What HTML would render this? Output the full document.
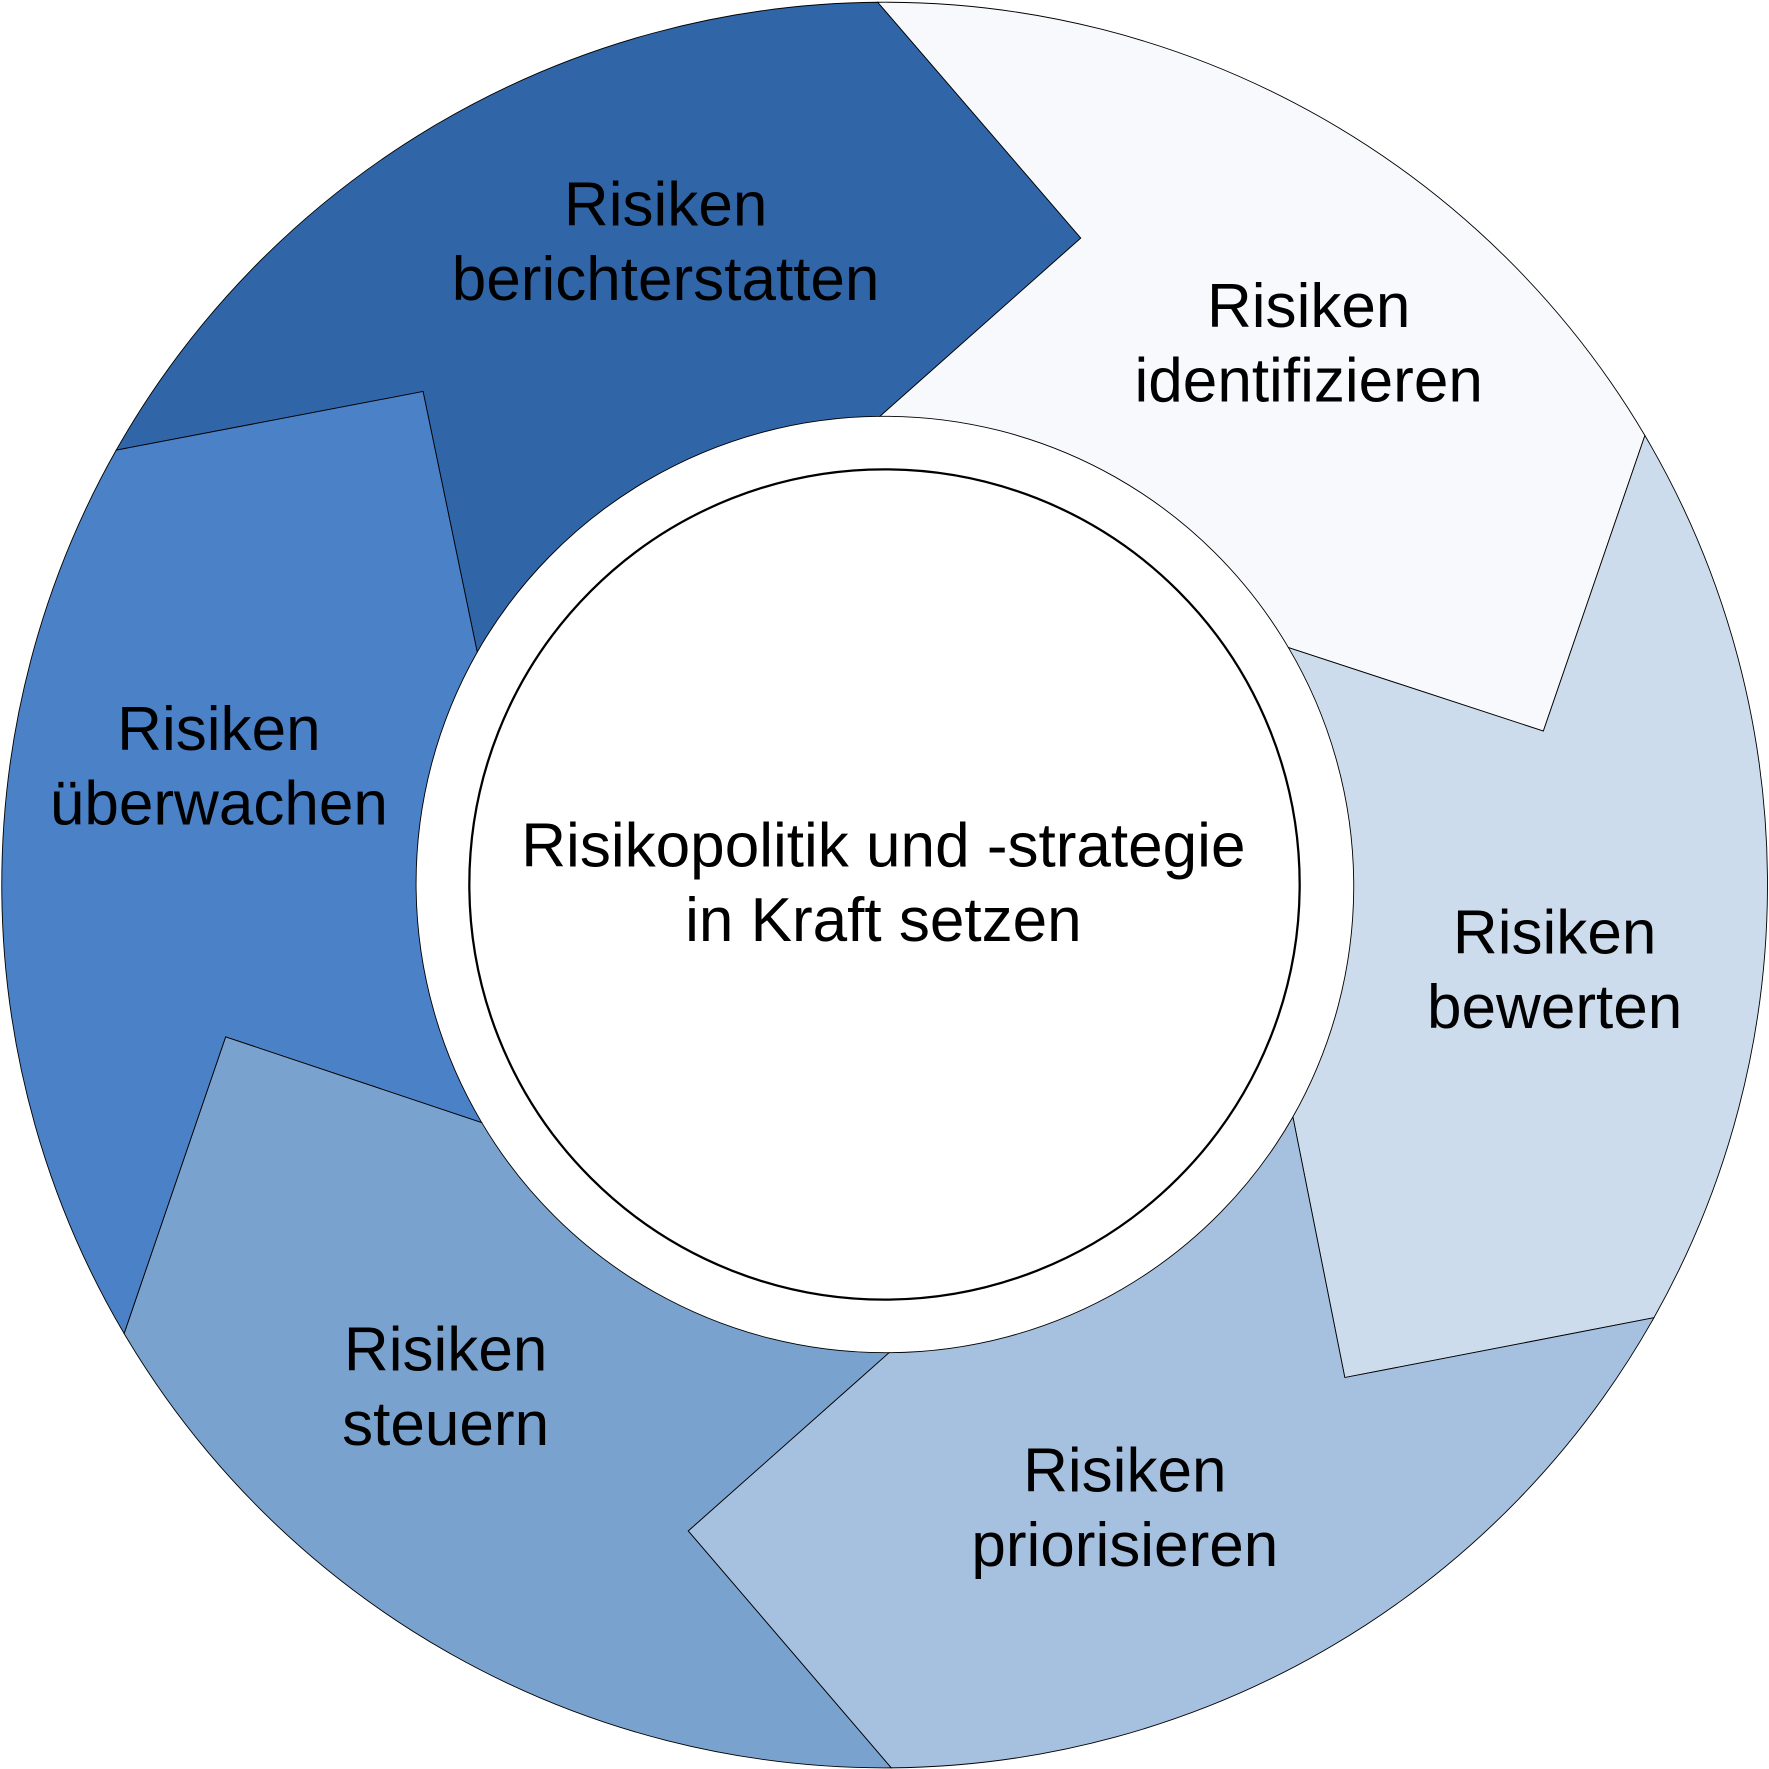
<!DOCTYPE html>
<html><head><meta charset="utf-8"><style>
html,body{margin:0;padding:0;background:#fff;}
svg{display:block;}
text{font-family:"Liberation Sans",Arial,sans-serif;font-size:55px;fill:#000;text-anchor:middle;}
</style></head><body>
<svg width="1769" height="1769" viewBox="0 0 1568 1568" xmlns="http://www.w3.org/2000/svg">
<g stroke="#000" stroke-width="0.8" stroke-linejoin="miter">
<path fill="#3066a8" d="M103,399 A783,783 0 0 1 778,2 L958,211 L780,369 A415,415 0 0 0 423,578 L375,347 Z"/>
<path fill="#f7f9fc" d="M778,2 A783,783 0 0 1 1458,386 L1368,648 L1142,574 A415,415 0 0 0 780,369 L958,211 Z"/>
<path fill="#ccdcec" d="M1458,386 A783,783 0 0 1 1466,1168 L1192,1221 L1146,990 A415,415 0 0 0 1142,574 L1368,648 Z"/>
<path fill="#a6c0df" d="M1466,1168 A783,783 0 0 1 790,1567 L610,1357 L788,1199 A415,415 0 0 0 1146,990 L1192,1221 Z"/>
<path fill="#79a3ce" d="M790,1567 A783,783 0 0 1 110,1182 L200,919 L427,995 A415,415 0 0 0 788,1199 L610,1357 Z"/>
<path fill="#4a81c7" d="M110,1182 A783,783 0 0 1 103,399 L375,347 L423,578 A415,415 0 0 0 427,995 L200,919 Z"/>
</g>
<circle cx="784" cy="784" r="368" fill="#fff" stroke="#000" stroke-width="2"/>
<text x="590" y="200">Risiken</text><text x="590" y="266">berichterstatten</text>
<text x="1160" y="290">Risiken</text><text x="1160" y="356">identifizieren</text>
<text x="1378" y="845">Risiken</text><text x="1378" y="911">bewerten</text>
<text x="997" y="1322">Risiken</text><text x="997" y="1388">priorisieren</text>
<text x="395" y="1215">Risiken</text><text x="395" y="1281">steuern</text>
<text x="194" y="665">Risiken</text><text x="194" y="731">überwachen</text>
<text x="783" y="768">Risikopolitik und -strategie</text><text x="783" y="834">in Kraft setzen</text>
</svg>
</body></html>
